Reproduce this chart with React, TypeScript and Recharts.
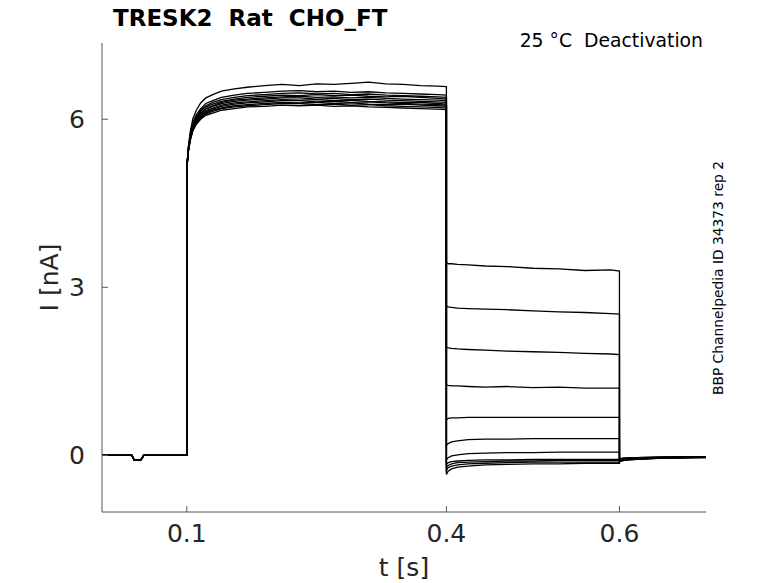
import React from "react";
import { LineChart, Line, XAxis, YAxis } from "recharts";

// Sweep recording, TRESK2 deactivation protocol

const T_PRE = [0.002, 0.0365, 0.039, 0.047, 0.0502, 0.1];
const I_PRE = [0, 0, -0.08, -0.08, 0, 0];

const T_ACT = [
  0.1, 0.1015, 0.104, 0.107, 0.111, 0.116, 0.122, 0.13, 0.14, 0.155, 0.17, 0.19, 0.21,
  0.23, 0.25, 0.27, 0.29, 0.31, 0.33, 0.35, 0.37, 0.39, 0.4,
];
const I_ACT = [
  [5.1, 5.48, 5.78, 6.01, 6.16, 6.29, 6.38, 6.44, 6.5, 6.54, 6.57, 6.6, 6.62, 6.6, 6.63, 6.62, 6.64, 6.66, 6.63, 6.62, 6.6, 6.59, 6.58],
  [5.1, 5.45, 5.73, 5.94, 6.08, 6.19, 6.28, 6.33, 6.39, 6.43, 6.46, 6.48, 6.5, 6.51, 6.49, 6.5, 6.48, 6.49, 6.47, 6.46, 6.45, 6.44, 6.43],
  [5.1, 5.44, 5.71, 5.92, 6.05, 6.16, 6.24, 6.3, 6.35, 6.39, 6.42, 6.44, 6.46, 6.47, 6.45, 6.46, 6.44, 6.45, 6.43, 6.42, 6.41, 6.4, 6.39],
  [5.1, 5.43, 5.7, 5.9, 6.03, 6.14, 6.22, 6.27, 6.32, 6.36, 6.39, 6.41, 6.43, 6.42, 6.44, 6.42, 6.43, 6.41, 6.4, 6.41, 6.39, 6.37, 6.36],
  [5.1, 5.43, 5.69, 5.88, 6.01, 6.11, 6.19, 6.24, 6.3, 6.34, 6.36, 6.38, 6.4, 6.41, 6.39, 6.4, 6.38, 6.39, 6.37, 6.36, 6.35, 6.34, 6.33],
  [5.1, 5.42, 5.68, 5.87, 6.0, 6.1, 6.18, 6.23, 6.28, 6.32, 6.34, 6.36, 6.38, 6.38, 6.36, 6.37, 6.35, 6.36, 6.34, 6.33, 6.32, 6.31, 6.3],
  [5.1, 5.41, 5.66, 5.85, 5.98, 6.08, 6.15, 6.2, 6.25, 6.29, 6.31, 6.33, 6.35, 6.34, 6.35, 6.33, 6.34, 6.32, 6.31, 6.3, 6.3, 6.28, 6.27],
  [5.1, 5.41, 5.65, 5.84, 5.96, 6.06, 6.13, 6.18, 6.23, 6.27, 6.29, 6.31, 6.33, 6.33, 6.31, 6.32, 6.3, 6.31, 6.29, 6.28, 6.27, 6.26, 6.25],
  [5.1, 5.4, 5.64, 5.82, 5.94, 6.04, 6.11, 6.16, 6.2, 6.24, 6.26, 6.28, 6.3, 6.29, 6.3, 6.28, 6.29, 6.27, 6.26, 6.27, 6.25, 6.24, 6.23],
  [5.1, 5.4, 5.63, 5.81, 5.93, 6.02, 6.09, 6.14, 6.19, 6.22, 6.24, 6.26, 6.28, 6.28, 6.26, 6.27, 6.25, 6.26, 6.24, 6.23, 6.22, 6.21, 6.2],
  [5.1, 5.39, 5.62, 5.79, 5.91, 6.0, 6.07, 6.11, 6.16, 6.19, 6.22, 6.23, 6.25, 6.24, 6.25, 6.23, 6.24, 6.22, 6.21, 6.2, 6.19, 6.18, 6.17],
];

const T_DEACT = [0.4, 0.402, 0.406, 0.413, 0.425, 0.445, 0.47, 0.5, 0.53, 0.56, 0.59, 0.6];
const I_DEACT = [
  [3.44, 3.42, 3.42, 3.41, 3.4, 3.38, 3.37, 3.34, 3.33, 3.3, 3.31, 3.29],
  [2.66, 2.65, 2.64, 2.63, 2.62, 2.61, 2.6, 2.58, 2.56, 2.55, 2.53, 2.52],
  [1.93, 1.92, 1.91, 1.9, 1.89, 1.88, 1.86, 1.85, 1.84, 1.82, 1.81, 1.8],
  [1.26, 1.25, 1.24, 1.24, 1.23, 1.22, 1.23, 1.21, 1.22, 1.2, 1.2, 1.2],
  [0.64, 0.66, 0.67, 0.67, 0.68, 0.68, 0.68, 0.68, 0.68, 0.68, 0.68, 0.68],
  [0.18, 0.21, 0.24, 0.26, 0.28, 0.29, 0.29, 0.3, 0.3, 0.3, 0.3, 0.3],
  [-0.08, -0.04, -0.01, 0.01, 0.03, 0.04, 0.05, 0.05, 0.06, 0.06, 0.06, 0.06],
  [-0.16, -0.13, -0.11, -0.1, -0.09, -0.08, -0.08, -0.07, -0.07, -0.07, -0.07, -0.07],
  [-0.22, -0.18, -0.15, -0.13, -0.12, -0.11, -0.1, -0.1, -0.09, -0.09, -0.09, -0.09],
  [-0.27, -0.22, -0.19, -0.17, -0.15, -0.14, -0.13, -0.12, -0.12, -0.12, -0.12, -0.12],
  [-0.34, -0.28, -0.24, -0.21, -0.19, -0.17, -0.16, -0.15, -0.15, -0.14, -0.14, -0.14],
];

const T_TAIL = [0.6, 0.606, 0.62, 0.65, 0.7];
const I_TAIL = [
  [-0.06, -0.05, -0.04, -0.03, -0.02],
  [-0.06, -0.05, -0.04, -0.03, -0.02],
  [-0.07, -0.05, -0.04, -0.03, -0.02],
  [-0.07, -0.06, -0.05, -0.03, -0.02],
  [-0.08, -0.06, -0.05, -0.04, -0.03],
  [-0.08, -0.07, -0.05, -0.04, -0.03],
  [-0.09, -0.07, -0.06, -0.04, -0.03],
  [-0.09, -0.07, -0.06, -0.05, -0.03],
  [-0.1, -0.08, -0.06, -0.05, -0.03],
  [-0.1, -0.08, -0.07, -0.05, -0.04],
  [-0.11, -0.09, -0.07, -0.05, -0.04],
];

const X_TICKS = [0.1, 0.4, 0.6];
const Y_TICKS = [0, 3, 6];

const W = 778;
const H = 583;
const PLOT_LEFT = 102;
const PLOT_TOP = 43;
const PLOT_RIGHT = 706;
const PLOT_BOTTOM = 512;
const Y_AXIS_W = 40;
const X_AXIS_H = 30;
const FONT = "DejaVu Sans";
const AXIS_COLOR = "#555";
const TEXT_COLOR = "#262626";

const sweeps = I_ACT.map((act, k) => [
  ...T_PRE.map((t, j) => ({ t, i: I_PRE[j] })),
  ...T_ACT.map((t, j) => ({ t, i: act[j] })),
  ...T_DEACT.map((t, j) => ({ t, i: I_DEACT[k][j] })),
  ...T_TAIL.map((t, j) => ({ t, i: I_TAIL[k][j] })),
]);

// ticks point inward, like the MATLAB figure
const XTick = (props: any) => {
  const { x, payload } = props;
  return (
    <g>
      <line x1={x} x2={x} y1={PLOT_BOTTOM} y2={PLOT_BOTTOM - 6} stroke={AXIS_COLOR} strokeWidth={1} />
      <text x={x} y={PLOT_BOTTOM + 30} textAnchor='middle' fontFamily={FONT} fontSize={25} fill={TEXT_COLOR}>
        {payload.value}
      </text>
    </g>
  );
};

const YTick = (props: any) => {
  const { y, payload } = props;
  return (
    <g>
      <line x1={PLOT_LEFT} x2={PLOT_LEFT + 6} y1={y} y2={y} stroke={AXIS_COLOR} strokeWidth={1} />
      <text x={85} y={y + 9} textAnchor='end' fontFamily={FONT} fontSize={25} fill={TEXT_COLOR}>
        {payload.value}
      </text>
    </g>
  );
};

export default function App() {
  return (
    <div style={{ position: "absolute", left: 0, top: 0, width: W, height: H, background: "#fff" }}>
      <LineChart
        width={W}
        height={H}
        margin={{
          top: PLOT_TOP,
          right: W - PLOT_RIGHT,
          bottom: H - PLOT_BOTTOM - X_AXIS_H,
          left: PLOT_LEFT - Y_AXIS_W,
        }}
      >
        <XAxis
          dataKey='t'
          type='number'
          domain={[0.002, 0.7]}
          ticks={X_TICKS}
          height={X_AXIS_H}
          allowDataOverflow
          axisLine={{ stroke: AXIS_COLOR }}
          tickLine={false}
          tick={XTick}
        />
        <YAxis
          type='number'
          domain={[-1.01, 7.36]}
          ticks={Y_TICKS}
          width={Y_AXIS_W}
          allowDataOverflow
          axisLine={{ stroke: AXIS_COLOR }}
          tickLine={false}
          tick={YTick}
        />
        {sweeps.map((data, k) => (
          <Line
            key={`sweep-${k}`}
            data={data}
            dataKey='i'
            type='linear'
            stroke='#000'
            strokeWidth={1.3}
            dot={false}
            activeDot={false}
            isAnimationActive={false}
          />
        ))}
      </LineChart>
      <svg width={W} height={H} style={{ position: "absolute", left: 0, top: 0, pointerEvents: "none" }}>
        <text x={113} y={26} fontFamily={FONT} fontWeight='bold' fontSize={23} fill='#000' style={{ whiteSpace: "pre" }}>
          {"TRESK2  Rat  CHO_FT"}
        </text>
        <text x={703} y={47} textAnchor='end' fontFamily={FONT} fontSize={18.8} fill='#000' style={{ whiteSpace: "pre" }}>
          {"25 °C  Deactivation"}
        </text>
        <text x={404} y={576} textAnchor='middle' fontFamily={FONT} fontSize={25} fill={TEXT_COLOR}>
          t [s]
        </text>
        <text
          x={58}
          y={277.5}
          textAnchor='middle'
          fontFamily={FONT}
          fontSize={25}
          fill={TEXT_COLOR}
          transform='rotate(-90 58 277.5)'
        >
          I [nA]
        </text>
        <text
          x={723}
          y={278}
          textAnchor='middle'
          fontFamily={FONT}
          fontSize={13.8}
          fill='#000'
          transform='rotate(-90 723 278)'
        >
          BBP Channelpedia ID 34373 rep 2
        </text>
      </svg>
    </div>
  );
}
